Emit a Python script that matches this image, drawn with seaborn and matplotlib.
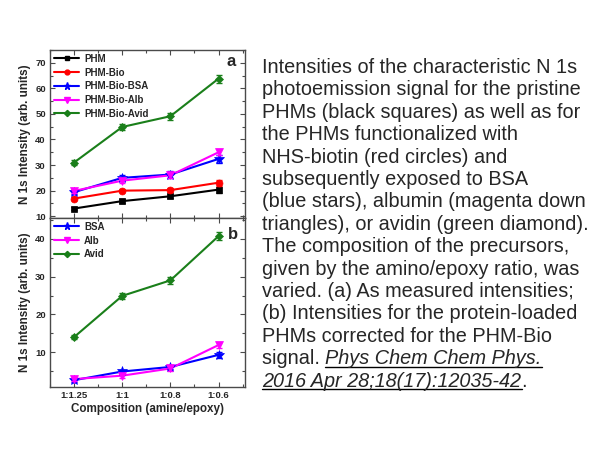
import numpy as np
import pandas as pd
import seaborn as sns
import matplotlib.pyplot as plt
from matplotlib.ticker import MultipleLocator
from matplotlib.lines import Line2D

# Composition categories (amine/epoxy)
compositions = ["1:1.25", "1:1", "1:0.8", "1:0.6"]

# Panel a: as measured N 1s intensities
series_a = ["PHM", "PHM-Bio", "PHM-Bio-BSA", "PHM-Bio-Alb", "PHM-Bio-Avid"]
phm = [13.0, 15.9, 17.8, 20.4]
phm_bio = [16.9, 20.0, 20.2, 23.1]
phm_bio_bsa = [19.4, 25.0, 26.3, 32.4]
phm_bio_alb = [19.9, 23.9, 26.0, 35.0]
phm_bio_avid = [31.0, 44.9, 49.1, 63.8]
err_a = [[0.6, 0.8, 0.8, 1.2], [0.6, 0.7, 0.8, 1.2], [0.8, 1.2, 1.2, 1.6],
         [0.8, 1.0, 1.0, 1.2], [0.8, 1.3, 1.3, 1.6]]

# Panel b: corrected for the PHM-Bio signal
series_b = ["BSA", "Alb", "Avid"]
bsa = [2.6, 4.9, 6.1, 9.3]
alb = [2.9, 3.8, 5.7, 11.9]
avid = [14.0, 24.9, 29.0, 40.7]
err_b = [[0.4, 0.5, 0.5, 0.7], [0.5, 0.5, 0.6, 0.9], [0.6, 0.8, 1.0, 1.0]]

colors_a = ["#000000", "#ff0000", "#0000ff", "#ff00ff", "#1a7f1a"]
markers_a = ["s", "o", "*", "v", "D"]
colors_b = ["#0000ff", "#ff00ff", "#1a7f1a"]
markers_b = ["*", "v", "D"]
msizes = {"s": 5, "o": 5, "*": 7.5, "v": 6, "D": 4.5}

caption = [
    "Intensities of the characteristic N 1s",
    "photoemission signal for the pristine",
    "PHMs (black squares) as well as for",
    "the PHMs functionalized with",
    "NHS-biotin (red circles) and",
    "subsequently exposed to BSA",
    "(blue stars), albumin (magenta down",
    "triangles), or avidin (green diamond).",
    "The composition of the precursors,",
    "given by the amino/epoxy ratio, was",
    "varied. (a) As measured intensities;",
    "(b) Intensities for the protein-loaded",
    "PHMs corrected for the PHM-Bio",
]
ref_line1 = ("signal. ", "Phys Chem Chem Phys. ", "")
ref_line2 = ("", "2016 Apr 28;18(17):12035-42", ".")


def long_frame(names, values):
    rows = []
    for name, vals in zip(names, values):
        for c, v in zip(compositions, vals):
            rows.append({"comp": c, "val": v, "series": name})
    df = pd.DataFrame(rows)
    df["comp"] = pd.Categorical(df["comp"], categories=compositions, ordered=True)
    return df


sns.set_style("ticks")
plt.rcParams["font.family"] = ["Liberation Sans", "DejaVu Sans"]

fig = plt.figure(figsize=(6.05, 4.54), dpi=100)
W, H = 605, 454
ax_a = fig.add_axes([50 / W, 1 - 218 / H, 195 / W, 168 / H])
ax_b = fig.add_axes([50 / W, 1 - 387 / H, 195 / W, 169 / H])

frame_col = "#4a4a4a"


def draw_panel(ax, names, values, errs, colors, markers):
    df = long_frame(names, values)
    sns.lineplot(ax=ax, data=df, x="comp", y="val", hue="series", hue_order=names,
                 palette=colors, sort=False, linewidth=1.5, legend=False)
    for name, vals, e, col, m in zip(names, values, errs, colors, markers):
        ax.errorbar(compositions, vals, yerr=e, fmt="none", ecolor=col,
                    elinewidth=1.0, capsize=2, capthick=1.0)
        ax.plot(compositions, vals, linestyle="none", marker=m, color=col,
                markersize=msizes[m], markeredgewidth=0.5)
    handles = [Line2D([], [], color=c, marker=m, lw=1.5, markersize=msizes[m] * 0.7)
               for c, m in zip(colors, markers)]
    ax.legend(handles, names, loc="upper left", frameon=False,
              prop={"weight": "bold", "size": 7}, handlelength=2.6,
              labelspacing=0.38, borderaxespad=0.2, handletextpad=0.5,
              borderpad=0.2)
    ax.set_xlim(-0.5, 3.55)
    ax.xaxis.set_minor_locator(MultipleLocator(0.5))
    ax.yaxis.set_minor_locator(MultipleLocator(5))
    ax.yaxis.set_major_locator(MultipleLocator(10))
    ax.tick_params(which="both", direction="in", top=True, right=True,
                   color=frame_col, labelsize=6.8, width=0.8, pad=3)
    ax.tick_params(which="major", length=3.5)
    ax.tick_params(which="minor", length=2)
    for lab in ax.get_xticklabels() + ax.get_yticklabels():
        lab.set_fontweight("bold")
    for sp in ax.spines.values():
        sp.set_color(frame_col)
        sp.set_linewidth(1.0)
    ax.set_ylabel("N 1s Intensity (arb. units)", fontsize=8.4, fontweight="bold",
                  labelpad=3)
    ax.set_xlabel("")


draw_panel(ax_a, series_a, [phm, phm_bio, phm_bio_bsa, phm_bio_alb, phm_bio_avid],
           err_a, colors_a, markers_a)
ax_a.set_ylim(9.3, 75)
ax_a.tick_params(axis="x", labelbottom=False)
ax_a.text(0.955, 0.93, "a", transform=ax_a.transAxes, ha="right", va="center",
          fontsize=12, fontweight="bold")

draw_panel(ax_b, series_b, [bsa, alb, avid], err_b, colors_b, markers_b)
ax_b.set_ylim(0.8, 45.5)
ax_b.set_yticks([10, 20, 30, 40])
ax_b.set_xlabel("Composition (amine/epoxy)", fontsize=8.4, fontweight="bold",
                labelpad=2)
ax_b.text(0.965, 0.9, "b", transform=ax_b.transAxes, ha="right", va="center",
          fontsize=12, fontweight="bold")
for lab in ax_b.get_xticklabels() + ax_b.get_yticklabels():
    lab.set_fontweight("bold")

# Caption block
cap_x = 262 / W
base0 = 73
step = 22.4
fsize = 14.3
for i, line in enumerate(caption):
    fig.text(cap_x, 1 - (base0 + i * step) / H, line, fontsize=fsize,
             ha="left", va="baseline")

renderer = fig.canvas.get_renderer()
for j, parts in enumerate([ref_line1, ref_line2]):
    y = 1 - (base0 + (len(caption) + j) * step) / H
    xpix = 262
    for k, part in enumerate(parts):
        if not part:
            continue
        t = fig.text(xpix / W, y, part, fontsize=fsize, ha="left", va="baseline",
                     style="italic" if k == 1 else "normal")
        bb = t.get_window_extent(renderer)
        if k == 1:
            txt = part.rstrip()
            tt = fig.text(xpix / W, y, txt, fontsize=fsize, alpha=0)
            ub = tt.get_window_extent(renderer)
            fig.add_artist(Line2D([xpix / W, (xpix + ub.width) / W],
                                  [y - 2.5 / H, y - 2.5 / H], color="black", lw=1.0))
        xpix += bb.width

fig.savefig("out.png", dpi=100)
